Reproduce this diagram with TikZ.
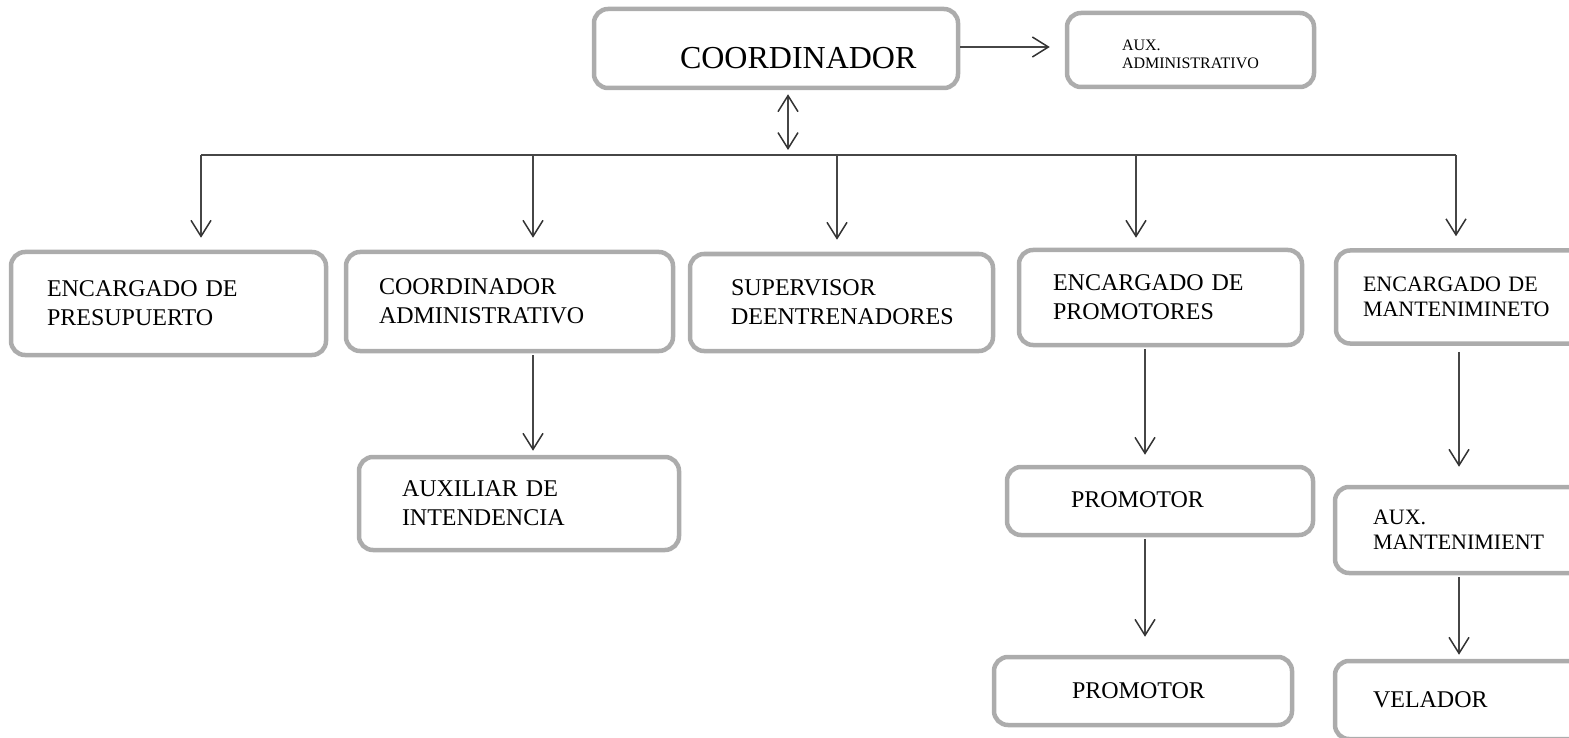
\documentclass[tikz,border=0pt]{standalone}
\usepackage{fontspec}
\setmainfont{Liberation Serif}
\usetikzlibrary{arrows.meta}
\hyphenpenalty=10000
\exhyphenpenalty=10000
\begin{document}
\begin{tikzpicture}[x=1pt,y=-1pt,
  box/.style={draw=gray!65, line width=4.5pt, rounded corners=14pt, rectangle,
    align=left, text=black, inner ysep=0pt},
  big/.style={font=\fontsize{24}{29}\selectfont},
  mid/.style={font=\fontsize{22}{25}\selectfont},
  conn/.style={draw=gray!55!black, line width=1.8pt},
  arr/.style={conn, -{Straight Barb[length=16pt,width=20pt,line width=1.5pt,color=black!80]}},
  darr/.style={conn, {Straight Barb[length=16pt,width=20pt,line width=1.5pt,color=black!80]}-{Straight Barb[length=16pt,width=20pt,line width=1.5pt,color=black!80]}}
]
\useasboundingbox (0,0) rectangle (1569,738);
\clip (0,0) rectangle (1569,738);

% top
\node[box, minimum width=364pt, minimum height=79pt, font=\fontsize{32}{36}\selectfont, inner xsep=86pt, text width=192pt] (c) at (776,48.5) {\rule{0pt}{41pt}COORDINADOR};
\node[box, minimum width=247pt, minimum height=74pt, font=\fontsize{16}{18}\selectfont, inner xsep=55pt, text width=137pt] (aux) at (1190.5,50) {\rule{0pt}{19pt}AUX.\\ADMINISTRATIVO};

% row 2
\node[box, big, minimum width=315pt, minimum height=103pt, inner xsep=36pt, text width=243pt] (n1) at (168.5,303.5) {ENCARGADO DE\\PRESUPUERTO};
\node[box, big, minimum width=327pt, minimum height=99pt, inner xsep=33pt, text width=261pt] (n2) at (509.5,301.5) {COORDINADOR\\ADMINISTRATIVO};
\node[box, big, minimum width=303pt, minimum height=97pt, inner xsep=41pt, text width=221pt] (n3) at (841.5,302.5) {SUPERVISOR\\DEENTRENADORES};
\node[box, big, minimum width=283pt, minimum height=95pt, inner xsep=34pt, text width=215pt] (n4) at (1160.5,297.5) {ENCARGADO DE\\PROMOTORES};
\node[box, mid, minimum width=272pt, minimum height=93pt, inner xsep=27pt, text width=218pt] (n5) at (1472,297) {ENCARGADO DE\\MANTENIMINETO};

% row 3
\node[box, big, minimum width=320pt, minimum height=93pt, inner xsep=43pt, text width=234pt] (a2) at (519,503.5) {AUXILIAR DE\\INTENDENCIA};
\node[box, big, minimum width=306pt, minimum height=68pt, inner xsep=64pt, text width=178pt] (p1) at (1160,501) {\raisebox{3pt}{PROMOTOR}};
\node[box, mid, minimum width=273pt, minimum height=86pt, inner xsep=38pt, text width=197pt] (m1) at (1471.5,530) {AUX.\\MANTENIMIENT};

% row 4
\node[box, big, minimum width=298pt, minimum height=68pt, inner xsep=78pt, text width=142pt] (p2) at (1143,691) {PROMOTOR};
\node[box, big, minimum width=273pt, minimum height=78pt, inner xsep=38pt, text width=197pt] (m2) at (1471.5,700) {VELADOR};

% coordinates for the bus
\coordinate (bar) at (788,155);
\coordinate (b1) at (201,155);
\coordinate (b2) at (533,155);
\coordinate (b3) at (837,155);
\coordinate (b4) at (1136,155);
\coordinate (b5) at (1456,155);
\coordinate (x4) at (1145,0);
\coordinate (x5) at (1459,0);

% connectors
\draw[arr, shorten >=15pt] (c.east |- 0,47) -- (aux.west |- 0,47);
\draw[darr, shorten <=4pt, shorten >=5pt] (c.south -| bar) -- (bar);
\draw[conn] (b1) -- (b5);
\draw[arr, shorten >=12pt] (b1) -- (b1 |- n1.north);
\draw[arr, shorten >=12pt] (b2) -- (b2 |- n2.north);
\draw[arr, shorten >=12pt] (b3) -- (b3 |- n3.north);
\draw[arr, shorten >=10pt] (b4) -- (b4 |- n4.north);
\draw[arr, shorten >=12pt] (b5) -- (b5 |- n5.north);

\draw[arr, shorten <=2pt, shorten >=4pt] (b2 |- n2.south) -- (b2 |- a2.north);
\draw[arr, shorten <=2pt, shorten >=10pt] (x4 |- n4.south) -- (x4 |- p1.north);
\draw[arr, shorten <=2pt, shorten >=18pt] (x4 |- p1.south) -- (x4 |- p2.north);
\draw[arr, shorten <=6pt, shorten >=18pt] (x5 |- n5.south) -- (x5 |- m1.north);
\draw[arr, shorten <=2pt, shorten >=4pt] (x5 |- m1.south) -- (x5 |- m2.north);
\end{tikzpicture}
\end{document}
